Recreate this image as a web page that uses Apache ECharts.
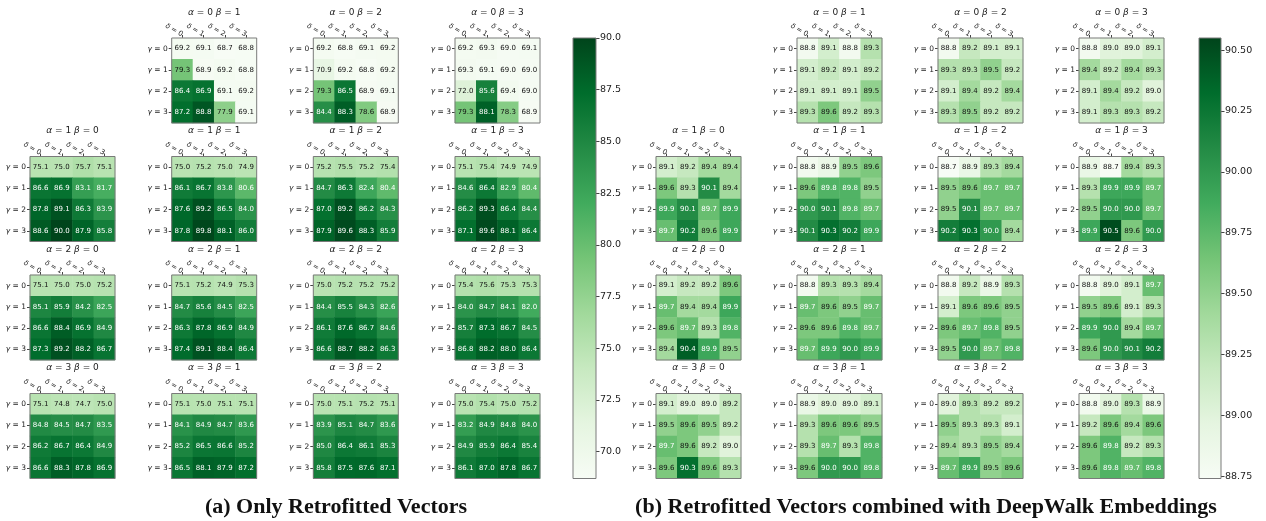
<!DOCTYPE html>
<html><head><meta charset="utf-8">
<script src="https://cdn.jsdelivr.net/npm/echarts@6/dist/echarts.min.js"></script>
<style>html,body{margin:0;padding:0;background:#fff}#c{width:1266px;height:521px}</style>
</head><body><div id="c"></div><script>
// ---------- data ----------
const deltaLabels = ['{i|δ} = 0', '{i|δ} = 1', '{i|δ} = 2', '{i|δ} = 3'];
const gammaLabels = ['{i|γ} = 0', '{i|γ} = 1', '{i|γ} = 2', '{i|γ} = 3'];
const alphaValues = [0, 1, 2, 3];
const betaValues = [0, 1, 2, 3];

// (a) Only Retrofitted Vectors: index = beta, rows = gamma, cols = delta
const retroA0 = [null,
  [[69.2,69.1,68.7,68.8],[79.3,68.9,69.2,68.8],[86.4,86.9,69.1,69.2],[87.2,88.8,77.9,69.1]],
  [[69.2,68.8,69.1,69.2],[70.9,69.2,68.8,69.2],[79.3,86.5,68.9,69.1],[84.4,88.3,78.6,68.9]],
  [[69.2,69.3,69.0,69.1],[69.3,69.1,69.0,69.0],[72.0,85.6,69.4,69.0],[79.3,88.1,78.3,68.9]]];
const retroA1 = [
  [[75.1,75.0,75.7,75.1],[86.6,86.9,83.1,81.7],[87.8,89.1,86.3,83.9],[88.6,90.0,87.9,85.8]],
  [[75.0,75.2,75.0,74.9],[86.1,86.7,83.8,80.6],[87.6,89.2,86.5,84.0],[87.8,89.8,88.1,86.0]],
  [[75.2,75.5,75.2,75.4],[84.7,86.3,82.4,80.4],[87.0,89.2,86.2,84.3],[87.9,89.6,88.3,85.9]],
  [[75.1,75.4,74.9,74.9],[84.6,86.4,82.9,80.4],[86.2,89.3,86.4,84.4],[87.1,89.6,88.1,86.4]]];
const retroA2 = [
  [[75.1,75.0,75.0,75.2],[85.1,85.9,84.2,82.5],[86.6,88.4,86.9,84.9],[87.3,89.2,88.2,86.7]],
  [[75.1,75.2,74.9,75.3],[84.7,85.6,84.5,82.5],[86.3,87.8,86.9,84.9],[87.4,89.1,88.4,86.4]],
  [[75.0,75.2,75.2,75.2],[84.4,85.5,84.3,82.6],[86.1,87.6,86.7,84.6],[86.6,88.7,88.2,86.3]],
  [[75.4,75.6,75.3,75.3],[84.0,84.7,84.1,82.0],[85.7,87.3,86.7,84.5],[86.8,88.2,88.0,86.4]]];
const retroA3 = [
  [[75.1,74.8,74.7,75.0],[84.8,84.5,84.7,83.5],[86.2,86.7,86.4,84.9],[86.6,88.3,87.8,86.9]],
  [[75.1,75.0,75.1,75.1],[84.1,84.9,84.7,83.6],[85.2,86.5,86.6,85.2],[86.5,88.1,87.9,87.2]],
  [[75.0,75.1,75.2,75.1],[83.9,85.1,84.7,83.6],[85.0,86.4,86.1,85.3],[85.8,87.5,87.6,87.1]],
  [[75.0,75.4,75.0,75.2],[83.2,84.9,84.8,84.0],[84.9,85.9,86.4,85.4],[86.1,87.0,87.8,86.7]]];

// (b) Retrofitted Vectors combined with DeepWalk Embeddings
const embedA0 = [null,
  [[88.8,89.1,88.8,89.3],[89.1,89.2,89.1,89.2],[89.1,89.1,89.1,89.5],[89.3,89.6,89.2,89.3]],
  [[88.8,89.2,89.1,89.1],[89.3,89.3,89.5,89.2],[89.1,89.4,89.2,89.4],[89.3,89.5,89.2,89.2]],
  [[88.8,89.0,89.0,89.1],[89.4,89.2,89.4,89.3],[89.1,89.4,89.2,89.0],[89.1,89.3,89.3,89.2]]];
const embedA1 = [
  [[89.1,89.2,89.4,89.4],[89.6,89.3,90.1,89.4],[89.9,90.1,89.7,89.9],[89.7,90.2,89.6,89.9]],
  [[88.8,88.9,89.5,89.6],[89.6,89.8,89.8,89.5],[90.0,90.1,89.8,89.7],[90.1,90.3,90.2,89.9]],
  [[88.7,88.9,89.3,89.4],[89.5,89.6,89.7,89.7],[89.5,90.1,89.7,89.7],[90.2,90.3,90.0,89.4]],
  [[88.9,88.7,89.4,89.3],[89.3,89.9,89.9,89.7],[89.5,90.0,90.0,89.7],[89.9,90.5,89.6,90.0]]];
const embedA2 = [
  [[89.1,89.2,89.2,89.6],[89.7,89.4,89.4,89.9],[89.6,89.7,89.3,89.8],[89.4,90.4,89.9,89.5]],
  [[88.8,89.3,89.3,89.4],[89.7,89.6,89.5,89.7],[89.6,89.6,89.8,89.7],[89.7,89.9,90.0,89.9]],
  [[88.8,89.2,88.9,89.3],[89.1,89.6,89.6,89.5],[89.6,89.7,89.8,89.5],[89.5,90.0,89.7,89.8]],
  [[88.8,89.0,89.1,89.7],[89.5,89.6,89.1,89.3],[89.9,90.0,89.4,89.7],[89.6,90.0,90.1,90.2]]];
const embedA3 = [
  [[89.1,89.0,89.0,89.2],[89.5,89.6,89.5,89.2],[89.7,89.6,89.2,89.0],[89.6,90.3,89.6,89.3]],
  [[88.9,89.0,89.0,89.1],[89.3,89.6,89.6,89.5],[89.3,89.7,89.3,89.8],[89.6,90.0,90.0,89.8]],
  [[89.0,89.3,89.2,89.2],[89.5,89.3,89.3,89.1],[89.4,89.3,89.5,89.4],[89.7,89.9,89.5,89.6]],
  [[88.8,89.0,89.3,88.9],[89.2,89.6,89.4,89.6],[89.6,89.8,89.2,89.3],[89.6,89.8,89.7,89.8]]];

const retroRange = [68.7, 90.0];
const embedRange = [88.74, 90.55];
const retroTicks = [70.0, 72.5, 75.0, 77.5, 80.0, 82.5, 85.0, 87.5, 90.0];
const embedTicks = [88.75, 89.00, 89.25, 89.50, 89.75, 90.00, 90.25, 90.50];
const captions = ['(a) Only Retrofitted Vectors', '(b) Retrofitted Vectors combined with DeepWalk Embeddings'];
const greens = ['#f7fcf5','#e5f5e0','#c7e9c0','#a1d99b','#74c476','#41ab5d','#238b45','#006d2c','#00441b'];

// ---------- layout ----------
const rowTop = [38, 156.5, 275, 393.5];
const cell = 85;
const panels = [
  {mats: [retroA0, retroA1, retroA2, retroA3], cols: [30, 171.7, 313.3, 455], range: retroRange,
   ticks: retroTicks, dec: 1, barLeft: 573, barWidth: 23, capX: 336},
  {mats: [embedA0, embedA1, embedA2, embedA3], cols: [656, 797, 938, 1079], range: embedRange,
   ticks: embedTicks, dec: 2, barLeft: 1199, barWidth: 22, capX: 926}
];
const FONT = 'DejaVu Sans';
const richX = {i: {fontStyle: 'italic', fontFamily: FONT, fontSize: 7, color: '#222'}};
const richY = {i: {fontStyle: 'italic', fontFamily: FONT, fontSize: 7.5, color: '#222'}};

const grids = [], xAxes = [], yAxes = [], series = [], titles = [], visualMaps = [];
panels.forEach((p, pi) => {
  const sIdx = [];
  const mid = (p.range[0] + p.range[1]) / 2;
  alphaValues.forEach((a, ai) => {
    betaValues.forEach((b, bi) => {
      const m = p.mats[ai][bi];
      if (!m) return;
      const gi = grids.length;
      grids.push({left: p.cols[bi], top: rowTop[ai], width: cell, height: cell, show: true,
        borderColor: '#7a7a7a', borderWidth: 1, backgroundColor: 'transparent', z: 5});
      xAxes.push({gridIndex: gi, type: 'category', data: deltaLabels, position: 'top',
        axisLine: {show: false}, splitLine: {show: false},
        axisTick: {show: true, alignWithLabel: true, length: 3, lineStyle: {color: '#444'}},
        axisLabel: {rotate: 30, fontSize: 7, fontFamily: FONT, color: '#222', margin: 3, interval: 0, rich: richX}});
      yAxes.push({gridIndex: gi, type: 'category', data: gammaLabels, inverse: true,
        axisLine: {show: false}, splitLine: {show: false},
        axisTick: {show: true, alignWithLabel: true, length: 3, lineStyle: {color: '#444'}},
        axisLabel: {fontSize: 7.5, fontFamily: FONT, color: '#222', margin: 4, interval: 0, rich: richY}});
      const data = [];
      m.forEach((row, g) => row.forEach((v, d) => {
        data.push({value: [d, g, v], label: {color: v >= mid ? '#ffffff' : '#111111'}});
      }));
      sIdx.push(series.length);
      series.push({type: 'heatmap', xAxisIndex: gi, yAxisIndex: gi, data: data,
        label: {show: true, fontSize: 7, fontFamily: FONT, formatter: q => q.value[2].toFixed(1)},
        emphasis: {disabled: true}, silent: true});
      titles.push({text: '{i|α} = ' + a + ' {i|β} = ' + b, left: p.cols[bi] + cell / 2, top: rowTop[ai] - 30,
        textAlign: 'center', padding: 0,
        textStyle: {fontSize: 9, fontWeight: 'normal', fontFamily: FONT, color: '#222',
          rich: {i: {fontStyle: 'italic', fontSize: 9, fontFamily: FONT, color: '#222'}}}});
    });
  });
  visualMaps.push({type: 'continuous', show: false, min: p.range[0], max: p.range[1],
    seriesIndex: sIdx, dimension: 2, inRange: {color: greens}});
  // colorbar
  const gi = grids.length;
  const top = rowTop[0], h = rowTop[3] + cell - rowTop[0];
  grids.push({left: p.barLeft, top: top, width: p.barWidth, height: h, show: true,
    borderColor: '#7a7a7a', borderWidth: 1, backgroundColor: 'transparent', z: 5});
  xAxes.push({gridIndex: gi, type: 'category', data: ['bar'], show: false});
  yAxes.push({gridIndex: gi, type: 'value', position: 'right', min: p.range[0], max: p.range[1],
    axisLine: {show: false}, splitLine: {show: false},
    axisTick: {show: true, length: 3.5, customValues: p.ticks, lineStyle: {color: '#444'}},
    axisLabel: {customValues: p.ticks, fontSize: 9.5, fontFamily: FONT, color: '#222', margin: 4,
      formatter: v => v.toFixed(p.dec)}});
  series.push({type: 'bar', xAxisIndex: gi, yAxisIndex: gi, data: [p.range[1]], barWidth: '100%',
    silent: true, clip: true,
    itemStyle: {color: new echarts.graphic.LinearGradient(0, top + h, 0, top,
      greens.map((c, i) => ({offset: i / (greens.length - 1), color: c})), true)}});
  titles.push({text: captions[pi], left: p.capX, top: 496, textAlign: 'center', padding: 0,
    textStyle: {fontSize: 22, fontWeight: 'bold', fontFamily: 'Liberation Serif', color: '#111'}});
});

const chart = echarts.init(document.getElementById('c'), null, {renderer: 'canvas'});
chart.setOption({animation: false, backgroundColor: '#ffffff', title: titles, grid: grids,
  xAxis: xAxes, yAxis: yAxes, visualMap: visualMaps, series: series});
</script></body></html>
